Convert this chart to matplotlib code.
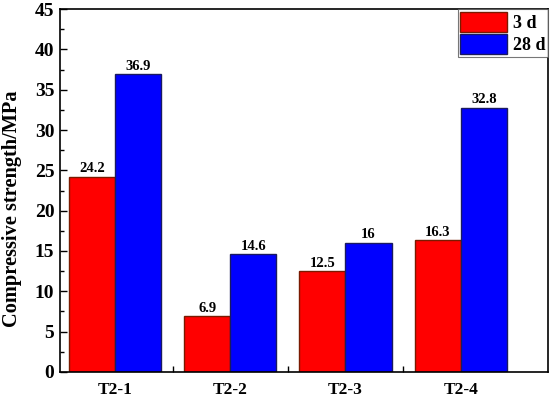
import matplotlib
matplotlib.use("Agg")
import matplotlib.pyplot as plt
import numpy as np
from matplotlib.ticker import MultipleLocator, FixedLocator

categories = ["T2-1", "T2-2", "T2-3", "T2-4"]
d3 = [24.2, 6.9, 12.5, 16.3]
d28 = [36.9, 14.6, 16, 32.8]
d3_labels = ["24.2", "6.9", "12.5", "16.3"]
d28_labels = ["36.9", "14.6", "16", "32.8"]

plt.rcParams['font.family'] = ['Liberation Serif', 'DejaVu Serif']
plt.rcParams['font.weight'] = 'bold'

fig = plt.figure(figsize=(5.5, 3.99), dpi=100)
ax = fig.add_axes([0.109, 0.068, 0.887, 0.909])

x = np.arange(len(categories))
w = 0.4
ax.bar(x - w/2, d3, w, color='#ff0000', edgecolor='#7a1a00', linewidth=1.0, label='3 d')
ax.bar(x + w/2, d28, w, color='#0000ff', edgecolor='#1a1a60', linewidth=1.0, label='28 d')

for xi, v, t in zip(x - w/2, d3, d3_labels):
    ax.text(xi, v + 0.2, t, ha='center', va='bottom', fontsize=10.5, fontweight='bold')
for xi, v, t in zip(x + w/2, d28, d28_labels):
    ax.text(xi, v + 0.2, t, ha='center', va='bottom', fontsize=10.5, fontweight='bold')

ax.set_xlim(-0.477, 3.755)
ax.set_ylim(0, 45)
ax.set_xticks(x)
ax.set_xticklabels(categories, fontsize=12.5, fontweight='bold')
ax.xaxis.set_minor_locator(FixedLocator([0.5, 1.5, 2.5]))
ax.yaxis.set_major_locator(MultipleLocator(5))
ax.yaxis.set_minor_locator(MultipleLocator(2.5))
ax.tick_params(axis='both', which='both', direction='in', width=1.0)
ax.tick_params(axis='x', which='major', length=0, pad=7)
ax.tick_params(axis='x', which='minor', length=4)
ax.tick_params(axis='y', which='major', length=5, labelsize=14, pad=4)
ax.tick_params(axis='y', which='minor', length=3)
for lab in ax.get_yticklabels():
    lab.set_fontweight('bold')
ax.set_ylabel('Compressive strength/MPa', fontsize=14.7, fontweight='bold')
ax.yaxis.set_label_coords(-0.078, 0.449)
for s in ax.spines.values():
    s.set_linewidth(1.2)

leg = ax.legend(loc='upper right', fontsize=13, frameon=True, fancybox=False,
                edgecolor='#555555', borderpad=0.15, handlelength=2.6, handleheight=1.3,
                handletextpad=0.3, labelspacing=0.15, borderaxespad=0.0)
leg.get_frame().set_linewidth(0.8)

fig.savefig('out.png', dpi=100)
